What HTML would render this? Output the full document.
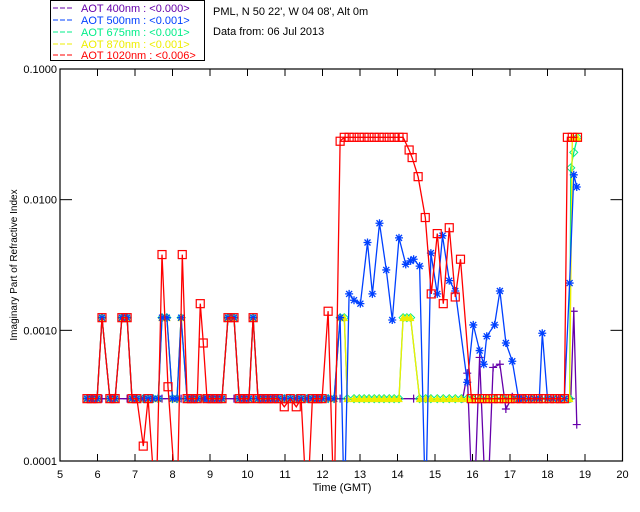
<!DOCTYPE html>
<html><head><meta charset="utf-8"><style>
html,body{margin:0;padding:0;background:#fff;}
svg{display:block;font-family:"Liberation Sans",sans-serif;}
</style></head><body>
<svg id="chart" width="640" height="512" viewBox="0 0 640 512" xmlns="http://www.w3.org/2000/svg">
<rect x="0" y="0" width="640" height="512" fill="#fff"/>
<g>
<rect x="50.5" y="0.5" width="154" height="60" fill="#fff" stroke="#000"/>
<g font-size="11">
<line x1="53" y1="8" x2="73" y2="8" stroke="#6600aa" stroke-dasharray="5,2"/><text x="81" y="12" fill="#6600aa">AOT  400nm : &lt;0.000&gt;</text>
<line x1="53" y1="20" x2="73" y2="20" stroke="#0040ff" stroke-dasharray="5,2"/><text x="81" y="24" fill="#0040ff">AOT  500nm : &lt;0.001&gt;</text>
<line x1="53" y1="32" x2="73" y2="32" stroke="#00ee88" stroke-dasharray="5,2"/><text x="81" y="36" fill="#00ee88">AOT  675nm : &lt;0.001&gt;</text>
<line x1="53" y1="44" x2="73" y2="44" stroke="#eeee00" stroke-dasharray="5,2"/><text x="81" y="48" fill="#eeee00">AOT  870nm : &lt;0.001&gt;</text>
<line x1="53" y1="55" x2="73" y2="55" stroke="#ff0000" stroke-dasharray="5,2"/><text x="81" y="59" fill="#ff0000">AOT 1020nm : &lt;0.006&gt;</text>
</g></g>
<text x="213" y="15" font-size="11">PML, N 50 22', W 04 08', Alt 0m</text>
<text x="213" y="35" font-size="11">Data from: 06 Jul 2013</text>
<text x="342" y="491" font-size="11" text-anchor="middle">Time (GMT)</text>
<text transform="translate(17,265) rotate(-90)" font-size="10" text-anchor="middle">Imaginary Part of Refractive Index</text>
<defs><clipPath id="plotclip"><rect x="60" y="69" width="562.5" height="392"/></clipPath></defs>
<g id="axes"></g>
<g id="series" clip-path="url(#plotclip)"></g>
</svg>
<script>
const xTicks = [5,6,7,8,9,10,11,12,13,14,15,16,17,18,19,20];
const yTicks = [0.0001,0.001,0.01,0.1];
const yTickLabels = ["0.0001","0.0010","0.0100","0.1000"];

const redT = [5.72,5.85,5.99,6.12,6.33,6.47,6.65,6.79,6.92,7.05,7.22,7.35,7.56,7.72,7.88,8.12,8.26,8.39,8.52,8.66,8.74,8.82,8.92,9.06,9.19,9.32,9.48,9.64,9.78,9.91,10.04,10.15,10.28,10.42,10.55,10.68,10.82,10.98,11.14,11.30,11.43,11.59,11.73,11.86,11.99,12.15,12.31,12.47,12.58,12.71,12.84,12.98,13.11,13.24,13.38,13.51,13.64,13.78,13.91,14.04,14.15,14.31,14.39,14.55,14.74,14.90,15.06,15.22,15.38,15.54,15.68,15.97,16.1,16.25,16.4,16.55,16.7,16.85,17.0,17.15,17.3,17.45,17.6,17.75,17.9,18.05,18.2,18.35,18.45,18.53,18.66,18.80];
const redV = [0.0003,0.0003,0.0003,0.00125,0.0003,0.0003,0.00125,0.00125,0.0003,0.0003,0.00013,0.0003,0.00004,0.0038,0.00037,0.00004,0.0038,0.0003,0.0003,0.0003,0.0016,0.0008,0.0003,0.0003,0.0003,0.0003,0.00125,0.00125,0.0003,0.0003,0.0003,0.00125,0.0003,0.0003,0.0003,0.0003,0.0003,0.00026,0.0003,0.00026,0.0003,0.00004,0.0003,0.0003,0.0003,0.0014,0.00004,0.028,0.030,0.030,0.030,0.030,0.030,0.030,0.030,0.030,0.030,0.030,0.030,0.030,0.030,0.024,0.021,0.015,0.0073,0.0019,0.0055,0.0016,0.0061,0.0018,0.0035,0.0003,0.0003,0.0003,0.0003,0.0003,0.0003,0.0003,0.0003,0.0003,0.0003,0.0003,0.0003,0.0003,0.0003,0.0003,0.0003,0.0003,0.0003,0.030,0.030,0.030];

const blueT = [5.72,5.85,5.99,6.12,6.33,6.47,6.65,6.79,6.92,7.05,7.22,7.35,7.48,7.62,7.72,7.85,8.0,8.12,8.23,8.39,8.52,8.66,8.82,8.92,9.06,9.19,9.32,9.48,9.64,9.78,9.91,10.04,10.15,10.28,10.42,10.55,10.68,10.82,10.98,11.14,11.30,11.43,11.59,11.73,11.86,11.99,12.15,12.31,12.47,12.58,12.71,12.84,13.01,13.20,13.33,13.52,13.70,13.86,14.04,14.22,14.35,14.43,14.59,14.75,14.89,15.06,15.20,15.38,15.54,15.86,16.02,16.19,16.30,16.38,16.59,16.73,16.89,17.06,17.23,17.35,17.5,17.65,17.78,17.86,18.0,18.15,18.3,18.45,18.59,18.70,18.78];
const blueV = [0.0003,0.0003,0.0003,0.00125,0.0003,0.0003,0.00125,0.00125,0.0003,0.0003,0.0003,0.0003,0.0003,0.0003,0.00125,0.00125,0.0003,0.0003,0.00125,0.0003,0.0003,0.0003,0.0003,0.0003,0.0003,0.0003,0.0003,0.00125,0.00125,0.0003,0.0003,0.0003,0.00125,0.0003,0.0003,0.0003,0.0003,0.0003,0.0003,0.0003,0.0003,0.0003,0.0003,0.0003,0.0003,0.0003,0.0003,0.0003,0.00125,0.00004,0.0019,0.0017,0.0016,0.0047,0.0019,0.0066,0.0029,0.0012,0.0051,0.0032,0.0034,0.0035,0.0031,0.00004,0.0039,0.0019,0.0053,0.0024,0.0020,0.0004,0.0011,0.0007,0.00055,0.0009,0.0011,0.0020,0.0008,0.00058,0.0003,0.0003,0.0003,0.0003,0.0003,0.00095,0.0003,0.0003,0.0003,0.0003,0.0023,0.0155,0.0125];

const purpleT = [5.72,6.12,6.47,6.79,7.05,7.35,7.72,8.23,8.66,9.19,9.64,10.15,10.68,11.14,11.59,11.99,12.47,12.84,13.24,13.64,14.04,14.43,14.89,15.38,15.74,15.86,16.02,16.19,16.38,16.55,16.73,16.89,17.06,17.3,17.65,18.0,18.3,18.62,18.70,18.78];
const purpleV = [0.0003,0.0003,0.0003,0.0003,0.0003,0.0003,0.0003,0.0003,0.0003,0.0003,0.0003,0.0003,0.0003,0.0003,0.0003,0.0003,0.0003,0.0003,0.0003,0.0003,0.0003,0.0003,0.0003,0.0003,0.0003,0.00047,0.00003,0.00062,0.00003,0.00052,0.00055,0.00025,0.00031,0.0003,0.0003,0.0003,0.0003,0.0003,0.0014,0.00019];

const yellowT = [5.72,5.85,5.99,6.12,6.33,6.47,6.65,6.79,6.92,7.05,7.22,7.35,7.48,7.62,7.72,7.85,8.0,8.12,8.23,8.39,8.52,8.66,8.82,8.92,9.06,9.19,9.32,9.48,9.64,9.78,9.91,10.04,10.15,10.28,10.42,10.55,10.68,10.82,10.98,11.14,11.30,11.43,11.59,11.73,11.86,11.99,12.15,12.31,12.47,12.58,12.66,12.84,12.98,13.11,13.24,13.38,13.51,13.64,13.78,13.91,14.04,14.15,14.25,14.35,14.59,14.75,14.89,15.06,15.22,15.38,15.54,15.7,15.86,16.0,16.2,16.4,16.6,16.8,17.0,17.2,17.4,17.6,17.8,18.0,18.2,18.4,18.59,18.66,18.80];
const yellowV = [0.0003,0.0003,0.0003,0.00125,0.0003,0.0003,0.00125,0.00125,0.0003,0.0003,0.0003,0.0003,0.0003,0.0003,0.00125,0.00125,0.0003,0.0003,0.00125,0.0003,0.0003,0.0003,0.0003,0.0003,0.0003,0.0003,0.0003,0.00125,0.00125,0.0003,0.0003,0.0003,0.00125,0.0003,0.0003,0.0003,0.0003,0.0003,0.0003,0.0003,0.0003,0.0003,0.0003,0.0003,0.0003,0.0003,0.0003,0.0003,0.00125,0.00125,0.0003,0.0003,0.0003,0.0003,0.0003,0.0003,0.0003,0.0003,0.0003,0.0003,0.0003,0.00125,0.00125,0.00125,0.0003,0.0003,0.0003,0.0003,0.0003,0.0003,0.0003,0.0003,0.0003,0.0003,0.0003,0.0003,0.0003,0.0003,0.0003,0.0003,0.0003,0.0003,0.0003,0.0003,0.0003,0.0003,0.0003,0.030,0.030];

const greenT = [5.72,5.85,5.99,6.12,6.33,6.47,6.65,6.79,6.92,7.05,7.22,7.35,7.48,7.62,7.72,7.85,8.0,8.12,8.23,8.39,8.52,8.66,8.82,8.92,9.06,9.19,9.32,9.48,9.64,9.78,9.91,10.04,10.15,10.28,10.42,10.55,10.68,10.82,10.98,11.14,11.30,11.43,11.59,11.73,11.86,11.99,12.15,12.31,12.47,12.58,12.66,12.84,12.98,13.11,13.24,13.38,13.51,13.64,13.78,13.91,14.04,14.15,14.25,14.35,14.59,14.75,14.89,15.06,15.22,15.38,15.54,15.7,15.86,16.0,16.2,16.4,16.6,16.8,17.0,17.2,17.4,17.6,17.8,18.0,18.2,18.4,18.59,18.62,18.70,18.80];
const greenV = [0.0003,0.0003,0.0003,0.00125,0.0003,0.0003,0.00125,0.00125,0.0003,0.0003,0.0003,0.0003,0.0003,0.0003,0.00125,0.00125,0.0003,0.0003,0.00125,0.0003,0.0003,0.0003,0.0003,0.0003,0.0003,0.0003,0.0003,0.00125,0.00125,0.0003,0.0003,0.0003,0.00125,0.0003,0.0003,0.0003,0.0003,0.0003,0.0003,0.0003,0.0003,0.0003,0.0003,0.0003,0.0003,0.0003,0.0003,0.0003,0.00125,0.00125,0.0003,0.0003,0.0003,0.0003,0.0003,0.0003,0.0003,0.0003,0.0003,0.0003,0.0003,0.00125,0.00125,0.00125,0.0003,0.0003,0.0003,0.0003,0.0003,0.0003,0.0003,0.0003,0.0003,0.0003,0.0003,0.0003,0.0003,0.0003,0.0003,0.0003,0.0003,0.0003,0.0003,0.0003,0.0003,0.0003,0.0003,0.0175,0.023,0.030];

const X0 = 60, X1 = 622.5, Y0 = 461, Y1 = 69;
function xs(t){ return X0 + (t - 5) / 15 * (X1 - X0); }
function ys(v){ return Y0 - (Math.log10(v) + 4) / 3 * (Y0 - Y1); }
const NS = "http://www.w3.org/2000/svg";
function mk(tag, attrs, parent){ const e = document.createElementNS(NS, tag); for (const k in attrs) e.setAttribute(k, attrs[k]); parent.appendChild(e); return e; }

const ax = document.getElementById('axes');
const frame = mk('rect', {x:X0, y:Y1, width:X1-X0, height:Y0-Y1, fill:'none', stroke:'#000', 'stroke-width':1.2}, ax);


xTicks.forEach(t => {
  const x = xs(t);
  mk('line', {x1:x, y1:Y0, x2:x, y2:Y0-7, stroke:'#000'}, ax);
  mk('line', {x1:x, y1:Y1, x2:x, y2:Y1+7, stroke:'#000'}, ax);
  const lb = mk('text', {x:x, y:Y0+17, 'font-size':11, 'text-anchor':'middle'}, ax);
  lb.textContent = String(t);
  
  
});
yTicks.forEach((v, i) => {
  const y = ys(v);
  mk('line', {x1:X0, y1:y, x2:X0+12, y2:y, stroke:'#000'}, ax);
  mk('line', {x1:X1, y1:y, x2:X1-12, y2:y, stroke:'#000'}, ax);
  const lb = mk('text', {x:X0-3, y:y+4, 'font-size':11, 'text-anchor':'end'}, ax);
  lb.textContent = yTickLabels[i];
  
  
});

const sg = document.getElementById('series');
function marker(kind, x, y, color, g){
  if (kind === 'square') mk('rect', {x:x-4, y:y-4, width:8, height:8, fill:'none', stroke:color, 'stroke-width':1.2}, g);
  else if (kind === 'star') { mk('path', {d:`M${x-4} ${y}H${x+4}M${x} ${y-4}V${y+4}M${x-3} ${y-3}L${x+3} ${y+3}M${x-3} ${y+3}L${x+3} ${y-3}`, stroke:color, 'stroke-width':1.3}, g); }
  else if (kind === 'diamond') mk('path', {d:`M${x} ${y-4}L${x+4} ${y}L${x} ${y+4}L${x-4} ${y}Z`, fill:'none', stroke:color}, g);
  else if (kind === 'tri') mk('path', {d:`M${x} ${y-3}L${x+3} ${y+3}L${x-3} ${y+3}Z`, fill:color, stroke:color}, g);
  else if (kind === 'plus') mk('path', {d:`M${x-4} ${y}H${x+4}M${x} ${y-4}V${y+4}`, stroke:color, 'stroke-width':1.2}, g);
}
function drawSeries(T, V, color, kind, name){
  const g = mk('g', {}, sg);
  
  
  const pts = T.map((t, i) => xs(t).toFixed(1) + ',' + ys(V[i]).toFixed(1)).join(' ');
  const pl = mk('polyline', {points:pts, fill:'none', stroke:color, 'stroke-width':1.3}, g);
  
  
  T.forEach((t, i) => marker(kind, xs(t), ys(V[i]), color, g));
}
drawSeries(purpleT, purpleV, '#6600aa', 'plus', 'series-400nm');
drawSeries(greenT, greenV, '#00ee88', 'diamond', 'series-675nm');
drawSeries(yellowT, yellowV, '#eeee00', 'tri', 'series-870nm');
drawSeries(blueT, blueV, '#0040ff', 'star', 'series-500nm');
drawSeries(redT, redV, '#ff0000', 'square', 'series-1020nm');
</script>
</body></html>
